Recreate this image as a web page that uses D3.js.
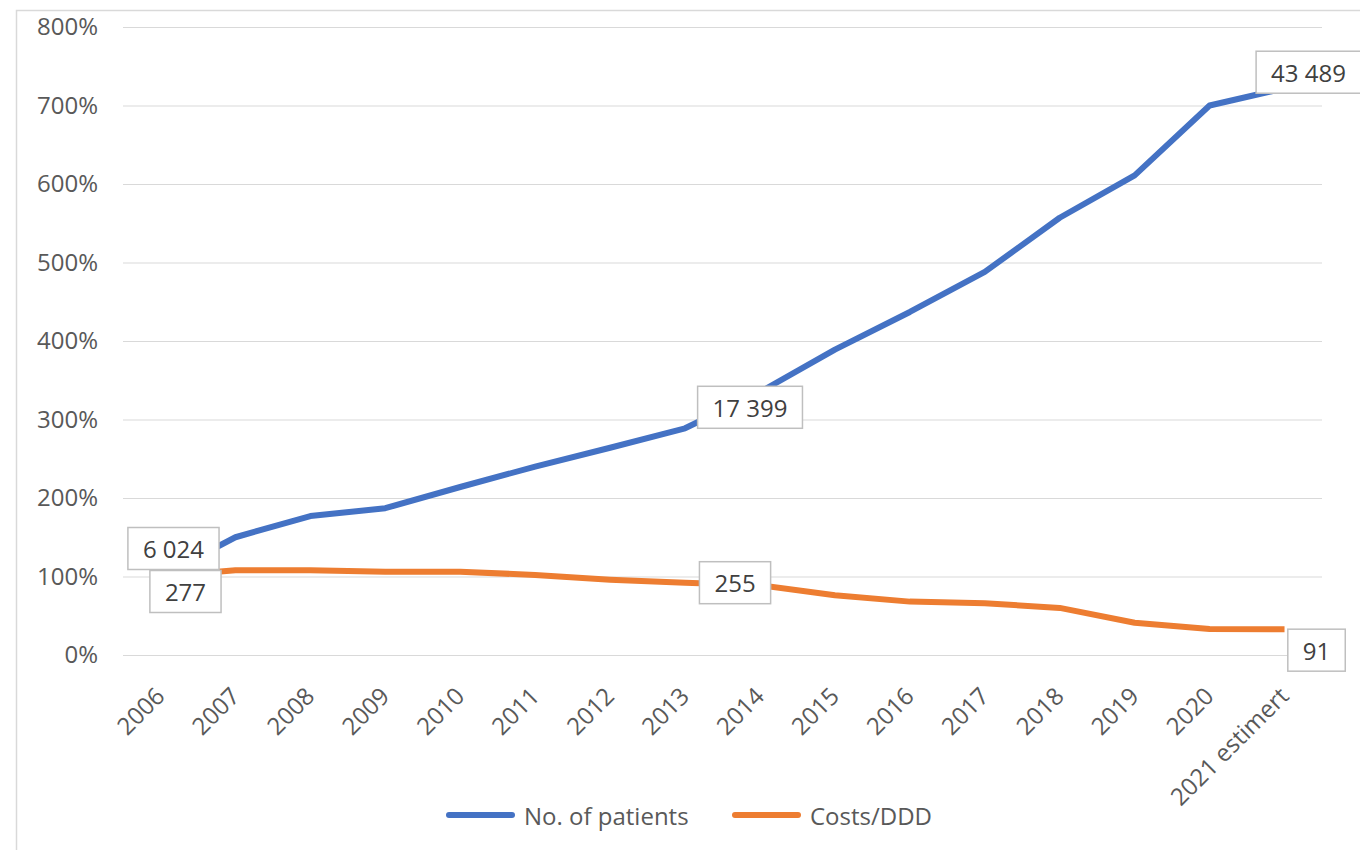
<html>
<head>
<meta charset="utf-8">
<title>No. of patients vs Costs/DDD</title>
<script src="https://d3js.org/d3.v7.min.js"></script>
<style>
  body { margin: 0; background: #fff; }
  text { font-family: "Open Sans", "Noto Sans", sans-serif; }
</style>
</head>
<body>
<div id="chart"></div>
<script>
// categories and series (index, 2006 = 100%)
const years = ["2006", "2007", "2008", "2009", "2010", "2011", "2012", "2013",
               "2014", "2015", "2016", "2017", "2018", "2019", "2020", "2021 estimert"];
const patients = [1.00, 1.50, 1.77, 1.87, 2.14, 2.40, 2.64, 2.888,
                  3.35, 3.89, 4.37, 4.88, 5.57, 6.11, 7.00, 7.22];
const costs = [1.00, 1.08, 1.08, 1.06, 1.06, 1.02, 0.96, 0.921,
               0.89, 0.76, 0.68, 0.66, 0.60, 0.41, 0.33, 0.329];
const yTicks = [0, 1, 2, 3, 4, 5, 6, 7, 8];
const seriesNames = ["No. of patients", "Costs/DDD"];
const colors = ["#4472C4", "#ED7D31"];

// data labels: series index, category, text
const labels = [
  { s: 0, year: "2006", text: "6 024" },
  { s: 1, year: "2006", text: "277" },
  { s: 0, year: "2013", text: "17 399" },
  { s: 1, year: "2013", text: "255" },
  { s: 0, year: "2021 estimert", text: "43 489" },
  { s: 1, year: "2021 estimert", text: "91" }
];
// where each label box sits, relative to its point
const labelOffsets = [[13, -28], [25, 15], [65, -21], [50, 0], [24, -16], [32, 21]];

const W = 1360, H = 850;
const svg = d3.select("#chart").append("svg")
    .attr("width", W).attr("height", H);

// chart area border
svg.append("rect")
    .attr("x", 16.5).attr("y", 10.5)
    .attr("width", 1400).attr("height", 900)
    .attr("fill", "#fff").attr("stroke", "#d9d9d9").attr("stroke-width", 1.5);

const plotLeft = 123, plotRight = 1322, plotTop = 27, plotBottom = 655;

const x = d3.scaleBand().domain(years).range([plotLeft, plotRight]).padding(0);
const cx = d => x(d) + x.bandwidth() / 2;
const y = d3.scaleLinear().domain([0, 8]).range([plotBottom, plotTop]);

// gridlines
svg.append("g")
    .attr("transform", "translate(" + plotLeft + ",0)")
    .call(d3.axisLeft(y).tickValues(yTicks).tickSize(-(plotRight - plotLeft)).tickFormat(""))
    .call(g => g.select(".domain").remove())
    .call(g => g.selectAll("line").attr("stroke", "#d9d9d9").attr("stroke-width", 1.2));

// y axis labels
svg.append("g")
    .attr("transform", "translate(" + plotLeft + ",0)")
    .call(d3.axisLeft(y).tickValues(yTicks).tickSize(0).tickPadding(25)
        .tickFormat(d => d3.format(".0%")(d)))
    .call(g => g.select(".domain").remove())
    .call(g => g.selectAll("text")
        .attr("fill", "#595959").style("font-size", "24px"));

// x axis labels
const xAxis = svg.append("g")
    .attr("transform", "translate(0," + plotBottom + ")")
    .call(d3.axisBottom(x).tickSize(0))
    .call(g => g.select(".domain").remove());
xAxis.selectAll(".tick text")
    .attr("fill", "#595959")
    .style("font-size", "24px")
    .attr("text-anchor", "end")
    .attr("dominant-baseline", "hanging")
    .attr("x", 0).attr("y", 0).attr("dy", 0)
    .attr("transform", "translate(-9,28) rotate(-45)");

// lines
const series = [patients, costs];
const line = d3.line()
    .x((d, i) => cx(years[i]))
    .y(d => y(d));

series.forEach((vals, s) => {
  svg.append("path")
      .datum(vals)
      .attr("d", line)
      .attr("fill", "none")
      .attr("stroke", colors[s])
      .attr("stroke-width", 6)
      .attr("stroke-linejoin", "round")
      .attr("stroke-linecap", "butt");
});

// data label boxes
labels.forEach((l, i) => {
  const idx = years.indexOf(l.year);
  const px = cx(l.year), py = y(series[l.s][idx]);
  const bx = px + labelOffsets[i][0], by = py + labelOffsets[i][1];
  const g = svg.append("g");
  const rect = g.append("rect");
  const t = g.append("text")
      .attr("x", bx).attr("y", by)
      .attr("text-anchor", "middle")
      .attr("dominant-baseline", "central")
      .attr("fill", "#404040")
      .style("font-size", "24px")
      .text(l.text);
  const tw = t.node().getComputedTextLength();
  const bw = tw + 30, bh = 42;
  rect.attr("x", bx - bw / 2).attr("y", by - bh / 2)
      .attr("width", bw).attr("height", bh)
      .attr("fill", "#fff").attr("stroke", "#bfbfbf").attr("stroke-width", 1.5);
});

// legend
const legend = svg.append("g");
const legendX = [449, 735];
seriesNames.forEach((name, s) => {
  legend.append("line")
      .attr("x1", legendX[s]).attr("x2", legendX[s] + 63)
      .attr("y1", 815).attr("y2", 815)
      .attr("stroke", colors[s]).attr("stroke-width", 6)
      .attr("stroke-linecap", "round");
  legend.append("text")
      .attr("x", legendX[s] + 75).attr("y", 815)
      .attr("dominant-baseline", "central")
      .attr("fill", "#595959")
      .style("font-size", "24px")
      .text(name);
});
</script>
</body>
</html>
